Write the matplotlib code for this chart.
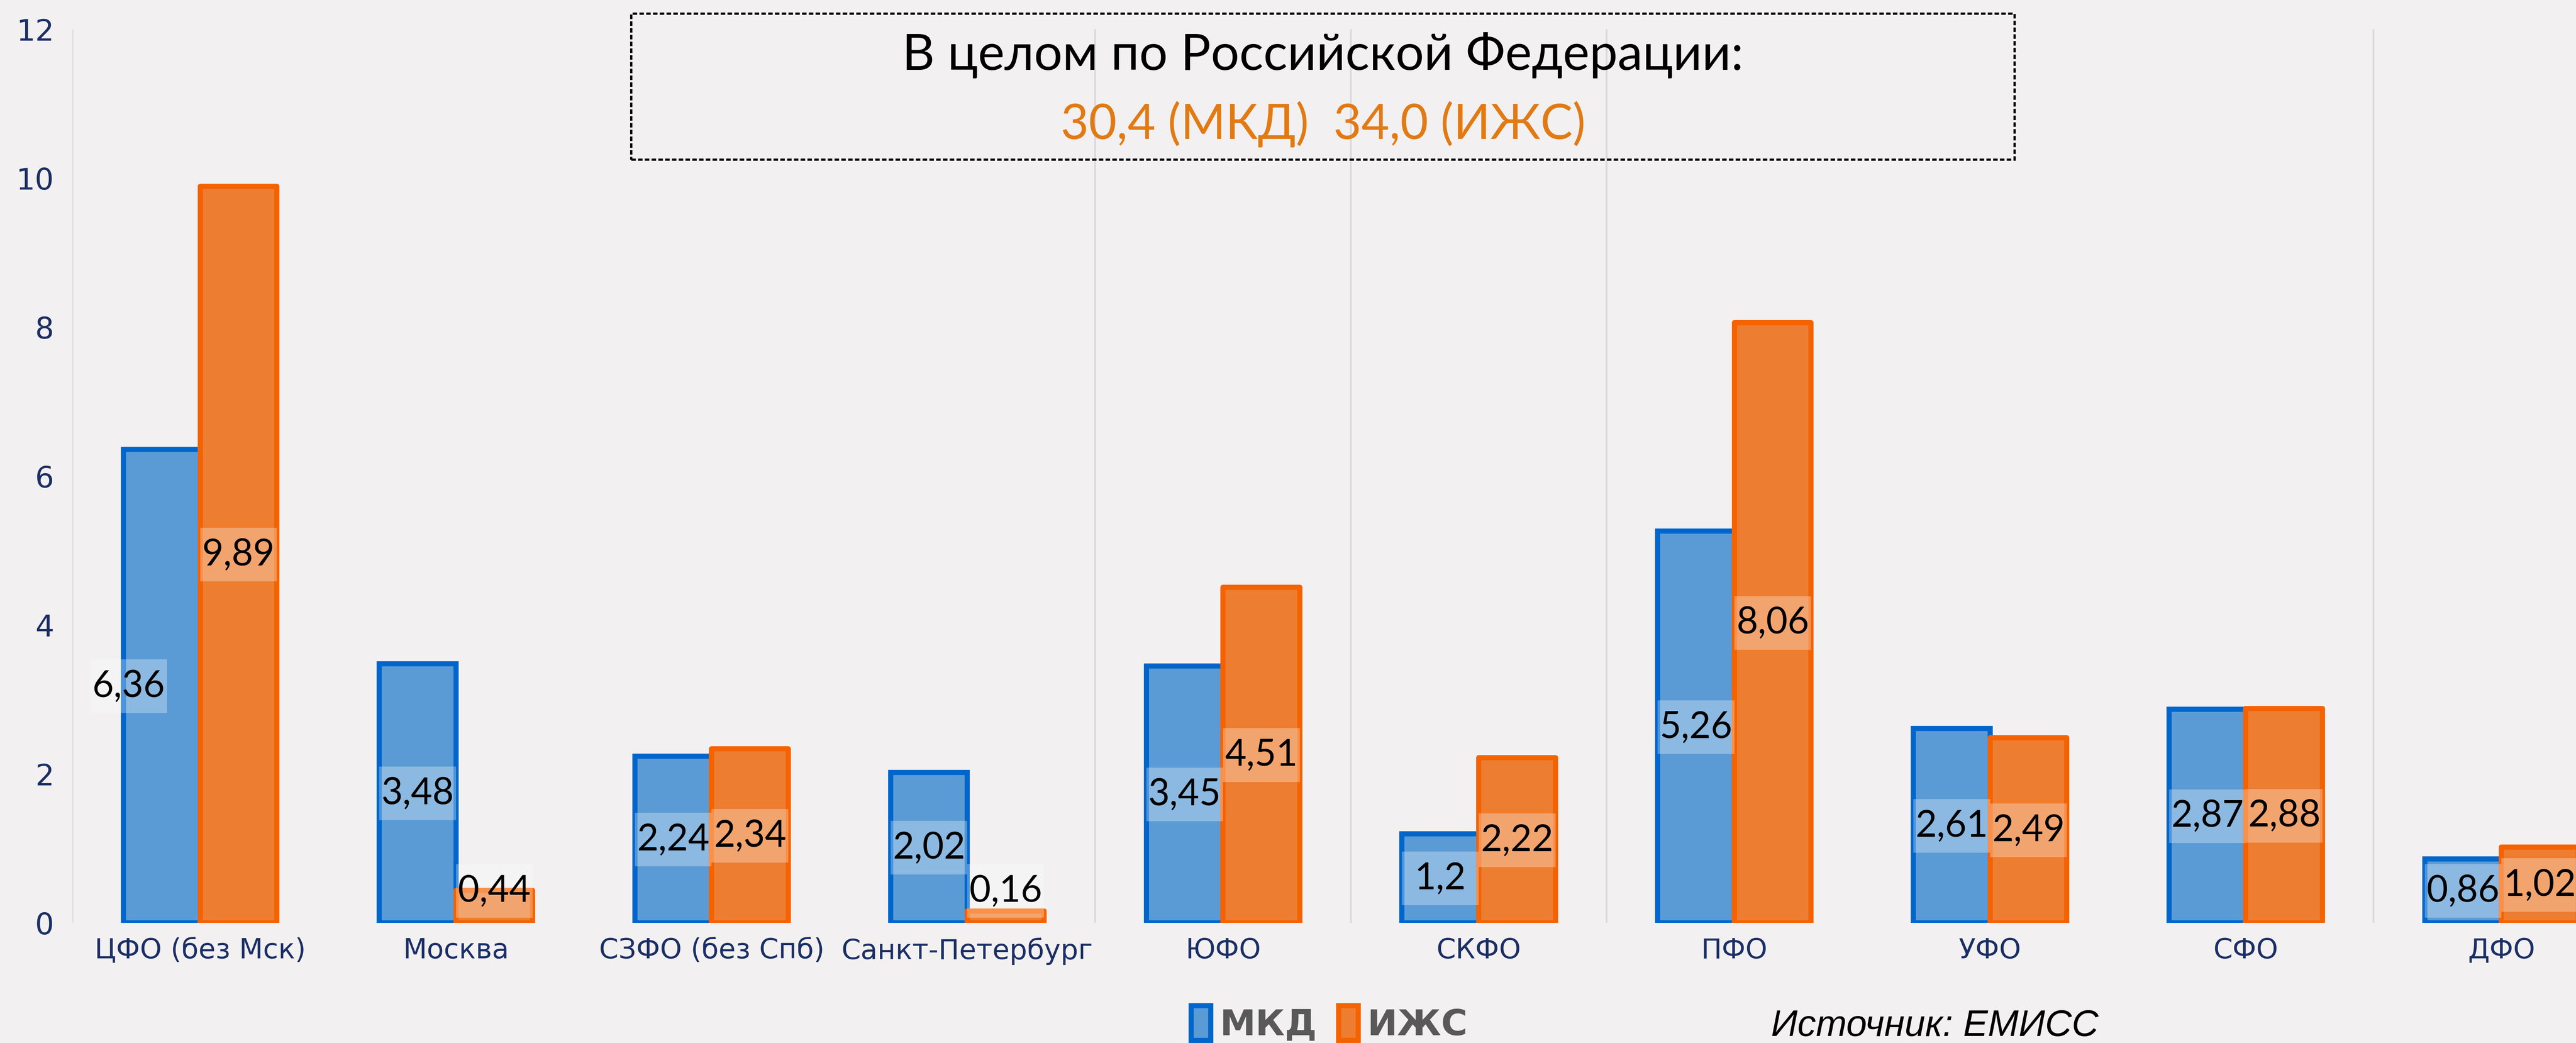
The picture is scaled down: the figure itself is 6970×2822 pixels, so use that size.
import matplotlib
matplotlib.use("Agg")
import matplotlib.pyplot as plt
from matplotlib.patches import Rectangle, Patch

REGIONS = ["ЦФО (без Мск)", "Москва", "СЗФО (без Спб)", "Санкт-Петербург", "ЮФО",
           "СКФО", "ПФО", "УФО", "СФО", "ДФО"]
MKD = [6.36, 3.48, 2.24, 2.02, 3.45, 1.2, 5.26, 2.61, 2.87, 0.86]
IZHS = [9.89, 0.44, 2.34, 0.16, 4.51, 2.22, 8.06, 2.49, 2.88, 1.02]
YTICKS = [0, 2, 4, 6, 8, 10, 12]
TITLE = "В целом по Российской Федерации:"
SUBTITLE = "30,4 (МКД)  34,0 (ИЖС)"
SOURCE = "Источник: ЕМИСС"

BG = "#F2F0F0"
BLUE_FILL, BLUE_EDGE = "#5B9BD5", "#0066CC"
ORANGE_FILL, ORANGE_EDGE = "#ED7D31", "#F56200"
NAVY = "#1B2F66"
W = 0.3


def fmt(v):
    return f"{v:g}".replace(".", ",")


fig = plt.figure(figsize=(34.855, 14.11), dpi=200, facecolor=BG)
ax = fig.add_axes([0.0281, 0.115, 0.9719, 0.857])
ax.set_facecolor(BG)

x = list(range(len(REGIONS)))
for b in [-0.5, 3.5, 4.5, 5.5, 8.5]:
    ax.axvline(b, color="#D9D9D9", lw=1.6, zorder=0)

ax.bar([i - W / 2 for i in x], MKD, W, color=BLUE_FILL, edgecolor=BLUE_EDGE,
       linewidth=5, zorder=2)
ax.bar([i + W / 2 for i in x], IZHS, W, color=ORANGE_FILL, edgecolor=ORANGE_EDGE,
       linewidth=5, zorder=3, joinstyle="round")

for series, off in ((MKD, -W / 2), (IZHS, W / 2)):
    for i, v in enumerate(series):
        cx = i + off
        if series is MKD and i == 0:
            cx -= 0.13  # label dragged left of the bar in the original
        cy = max(v / 2, 0.43)
        ax.add_patch(Rectangle((cx - W / 2, cy - 0.36), W, 0.72, facecolor="white",
                               alpha=0.3, edgecolor="none", zorder=4))
        ax.text(cx, cy, fmt(v), ha="center", va="center", fontsize=36,
                family="Lato", color="black", zorder=5)

ax.set_xlim(-0.5, 9.293)
ax.set_ylim(0, 12)
ax.set_yticks(YTICKS)
ax.set_yticklabels([str(t) for t in YTICKS], fontsize=29, color=NAVY)
ax.set_xticks(x)
ax.set_xticklabels(REGIONS, fontsize=27, color=NAVY)
ax.tick_params(length=0, pad=14)
ax.tick_params(axis="y", pad=18)
for s in ax.spines.values():
    s.set_visible(False)

# summary box at the top
fig.patches.append(Rectangle((0.245, 0.847), 0.537, 0.140, transform=fig.transFigure,
                             fill=False, edgecolor="black", linewidth=2.2,
                             linestyle=(0, (2, 1)), zorder=10))
fig.text(0.5135, 0.947, TITLE, ha="center", va="center", fontsize=49,
         family="Lato", color="black")
fig.text(0.5135, 0.881, SUBTITLE, ha="center", va="center", fontsize=47,
         family="Lato", color="#E27A14")

handles = [Patch(facecolor=BLUE_FILL, edgecolor=BLUE_EDGE, linewidth=5, label="МКД"),
           Patch(facecolor=ORANGE_FILL, edgecolor=ORANGE_EDGE, linewidth=5, label="ИЖС")]
leg = fig.legend(handles=handles, loc="center", bbox_to_anchor=(0.516, 0.018), ncol=2,
                 frameon=False, handlelength=0.55, handleheight=1.1, handletextpad=0.25,
                 columnspacing=0.6, prop={"size": 35, "weight": "bold"})
for t in leg.get_texts():
    t.set_color("#595959")

fig.text(0.751, 0.016, SOURCE, ha="center", va="center", fontsize=36,
         style="italic", family="Liberation Sans", color="black")

fig.savefig("out.png", dpi=200, facecolor=BG)
